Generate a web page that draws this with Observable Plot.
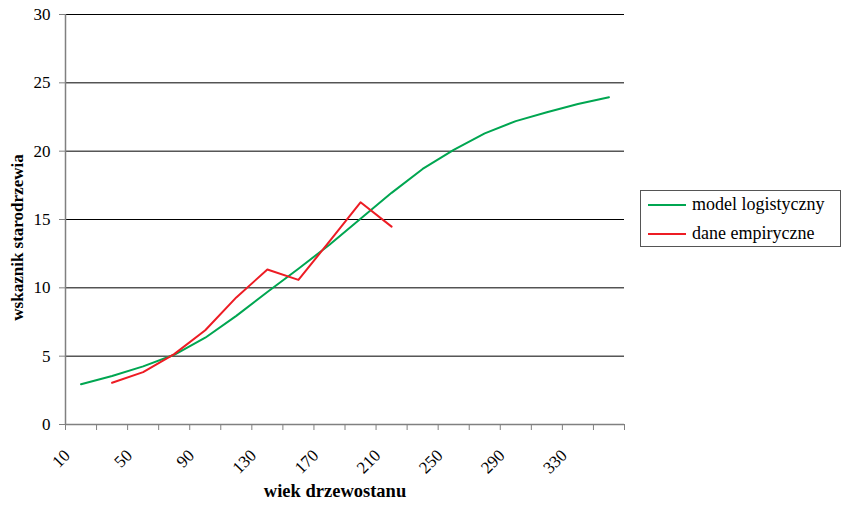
<!DOCTYPE html>
<html>
<head>
<meta charset="utf-8">
<script src="https://cdn.jsdelivr.net/npm/d3@7"></script>
<script src="https://cdn.jsdelivr.net/npm/@observablehq/plot@0.6"></script>
<style>
  body { margin: 0; background: #fff; font-family: "Liberation Serif", "Times New Roman", serif; }
  #wrap { position: relative; width: 841px; height: 505px; }
  #legend { position: absolute; left: 640px; top: 190px; width: 199px; height: 55px;
    border: 1px solid #555; background: #fff; font-family: "Liberation Serif", "Times New Roman", serif; font-size: 18px; }
  .item { position: absolute; left: 7px; display: flex; align-items: center; }
  .item span.sw { display: inline-block; width: 38px; height: 2px; margin-right: 6px; }
</style>
</head>
<body>
<div id="wrap"></div>
<script>
// ---- data ----
const modelAge = [10, 30, 50, 70, 90, 110, 130, 150, 170, 190, 210, 230, 250, 270, 290, 310, 330, 350];
const modelValue = [2.95, 3.55, 4.25, 5.1, 6.35, 7.95, 9.7, 11.4, 13.15, 15.05, 16.95, 18.7, 20.1, 21.3, 22.2, 22.85, 23.45, 23.95];
const empAge = [30, 50, 70, 90, 110, 130, 150, 170, 190, 210];
const empValue = [3.05, 3.83, 5.15, 6.9, 9.3, 11.34, 10.58, 13.4, 16.26, 14.48];
const xTickPositions = [0, 20, 40, 60, 80, 100, 120, 140, 160, 180, 200, 220, 240, 260, 280, 300, 320, 340, 360];
const xTickLabels = [10, 50, 90, 130, 170, 210, 250, 290, 330];
const yTicks = [0, 5, 10, 15, 20, 25, 30];
const yGrid = [5, 10, 15, 20, 25, 30];
const seriesNames = ["model logistyczny", "dane empiryczne"];
const seriesColors = ["#00a651", "#ed1c24"];
const xTitle = "wiek drzewostanu";
const yTitle = "wskaznik starodrzewia";

const model = modelAge.map((a, i) => ({age: a, value: modelValue[i]}));
const emp = empAge.map((a, i) => ({age: a, value: empValue[i]}));

const axisGray = "#808080";
const chart = Plot.plot({
  width: 841,
  height: 505,
  marginLeft: 65,
  marginRight: 217,
  marginTop: 14,
  marginBottom: 81,
  style: {fontFamily: "'Liberation Serif', 'Times New Roman', serif", fontSize: "17px", background: "#fff", color: "#000"},
  x: {domain: [0, 360], label: null},
  y: {domain: [0, 30], label: null},
  marks: [
    Plot.gridY(yGrid, {stroke: "#000", strokeOpacity: 1, strokeWidth: 1}),
    Plot.ruleY([0], {stroke: axisGray, strokeWidth: 1.5}),
    Plot.ruleX([0], {stroke: axisGray, strokeWidth: 1.5}),
    Plot.axisY({ticks: yTicks, tickSize: 6, tickPadding: 9, stroke: axisGray, fill: "#000", fontSize: 17, label: null}),
    Plot.axisX({ticks: xTickPositions, tickSize: 6, tickFormat: () => "", stroke: axisGray, label: null}),
    Plot.text(xTickLabels, {x: (d) => d, text: (d) => String(d), frameAnchor: "bottom", rotate: -45, textAnchor: "end", dx: -10, dy: 32, fill: "#000", fontSize: 17}),
    Plot.line(model, {x: "age", y: "value", stroke: seriesColors[0], strokeWidth: 2}),
    Plot.line(emp, {x: "age", y: "value", stroke: seriesColors[1], strokeWidth: 2}),
    Plot.text([xTitle], {frameAnchor: "bottom", dx: -10, dy: 72, fontWeight: "bold", fontSize: 18.5, fill: "#000"}),
    Plot.text([yTitle], {frameAnchor: "left", textAnchor: "middle", rotate: -90, dx: -48, dy: 18, fontWeight: "bold", fontSize: 17, fill: "#000"})
  ]
});
const wrap = document.getElementById("wrap");
wrap.appendChild(chart);

const legend = document.createElement("div");
legend.id = "legend";
seriesNames.forEach((name, i) => {
  const it = document.createElement("div");
  it.className = "item";
  it.style.top = (i === 0 ? 3 : 32) + "px";
  const sw = document.createElement("span");
  sw.className = "sw";
  sw.style.background = seriesColors[i];
  it.appendChild(sw);
  const t = document.createElement("span");
  t.textContent = name;
  it.appendChild(t);
  legend.appendChild(it);
});
wrap.appendChild(legend);
</script>
</body>
</html>
